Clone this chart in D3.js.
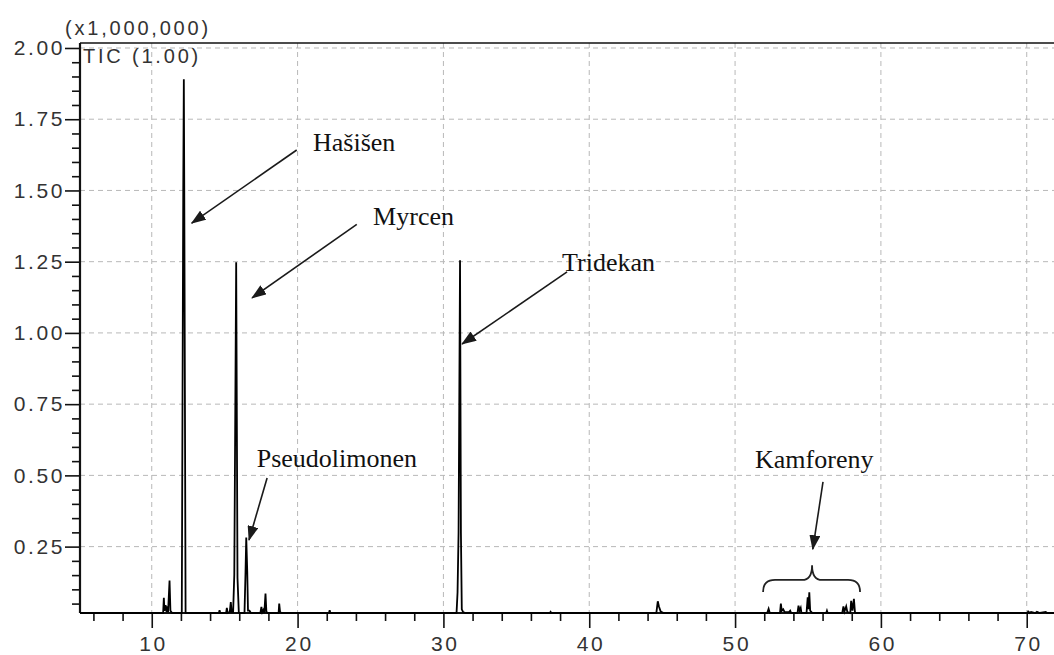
<!DOCTYPE html>
<html>
<head>
<meta charset="utf-8">
<script src="https://cdn.jsdelivr.net/npm/d3@7"></script>
<style>
  body { margin: 0; background: #fff; }
  .tick text { font-family: "Liberation Sans", Arial, sans-serif; }
</style>
</head>
<body>
<div id="graph-area"></div>
<script>
// Chromatogram trace (retention time in min, intensity in x1,000,000)
var traceTime = [
  5.08, 10.78, 10.83, 10.87, 10.95, 11.02, 11.08, 11.12, 11.22, 11.28, 11.4,
  12.06, 12.16, 12.2, 12.23, 12.32,
  14.6, 14.65, 14.7, 15.1, 15.15, 15.2, 15.35, 15.42, 15.48, 15.58, 15.66, 15.79, 15.88, 15.97, 16.02,
  16.36, 16.43, 16.48, 16.55, 16.6, 16.7, 16.8,
  17.45, 17.52, 17.58, 17.68, 17.72, 17.8, 17.86, 17.95,
  18.7, 18.74, 18.8, 18.9,
  22.15, 22.2, 22.25,
  30.9, 30.97, 31.04, 31.14, 31.2, 31.26, 31.35, 31.5,
  37.3, 37.35, 37.4,
  44.6, 44.7, 44.78, 44.9, 45.1,
  52.2, 52.3, 52.38, 53.08, 53.14, 53.2, 53.3, 53.4, 53.7, 53.78, 53.85,
  54.28, 54.35, 54.42, 54.5, 54.55, 54.9, 54.98, 55.03, 55.09, 55.15, 55.3,
  56.25, 56.3, 56.35, 57.35, 57.43, 57.5, 57.62, 57.7, 57.9, 57.96, 58.05, 58.15, 58.22, 58.3,
  70.05, 70.1, 70.2, 70.3, 70.6, 70.7, 70.9, 71.3, 71.4, 71.6, 71.87
];
var traceSignal = [
  0.017, 0.017, 0.07, 0.025, 0.045, 0.02, 0.04, 0.02, 0.131, 0.025, 0.017,
  0.017, 1.50, 1.89, 1.50, 0.017,
  0.017, 0.027, 0.017, 0.017, 0.035, 0.017, 0.02, 0.055, 0.02, 0.02, 0.15, 1.248, 0.14, 0.02, 0.017,
  0.017, 0.16, 0.282, 0.16, 0.025, 0.025, 0.017,
  0.017, 0.038, 0.02, 0.03, 0.017, 0.085, 0.022, 0.017,
  0.017, 0.05, 0.02, 0.017,
  0.017, 0.027, 0.017,
  0.017, 0.09, 0.30, 1.255, 0.30, 0.03, 0.02, 0.017,
  0.017, 0.021, 0.017,
  0.017, 0.058, 0.04, 0.022, 0.017,
  0.017, 0.032, 0.017, 0.017, 0.05, 0.025, 0.03, 0.02, 0.02, 0.025, 0.017,
  0.017, 0.043, 0.025, 0.035, 0.017, 0.017, 0.072, 0.03, 0.09, 0.025, 0.017,
  0.017, 0.025, 0.017, 0.017, 0.04, 0.022, 0.04, 0.02, 0.017, 0.06, 0.025, 0.067, 0.02, 0.017,
  0.017, 0.022, 0.017, 0.021, 0.017, 0.021, 0.017, 0.021, 0.017, 0.017, 0.017
];

var xTicks = [10, 20, 30, 40, 50, 60, 70];
var yTicks = [0.25, 0.50, 0.75, 1.00, 1.25, 1.50, 1.75, 2.00];

// Annotations (data coords)
var labelNames  = ["Hašišen", "Myrcen", "Tridekan", "Pseudolimonen", "Kamforeny"];
var labelTime   = [21.06, 25.18, 38.14, 17.2, 51.37];
var labelSignal = [1.64, 1.379, 1.217, 0.530, 0.526];
var arrowFromTime   = [19.94, 24.06, 38.48, 17.91, 56.03];
var arrowFromSignal = [1.642, 1.381, 1.214, 0.491, 0.477];
var arrowToTime     = [12.74, 16.88, 31.28, 16.67, 55.33];
var arrowToSignal   = [1.385, 1.123, 0.961, 0.273, 0.241];
// brace over Kamforeny group: left, centre, right / end, arm, tip level
var braceTime   = [51.92, 55.28, 58.57];
var braceSignal = [0.091, 0.133, 0.185];

var width = 1054, height = 655;
var mLeft = 80, mTop = 43, mBottom = 613;

var x = d3.scaleLinear().domain([5.08, 71.87]).range([mLeft, width]);
var y = d3.scaleLinear().domain([0.017, 2.0175]).range([mBottom, mTop]);

var svg = d3.select("#graph-area")
  .append("svg")
  .attr("width", width)
  .attr("height", height);

// arrow head
svg.append("defs").append("marker")
  .attr("id", "head")
  .attr("markerUnits", "userSpaceOnUse")
  .attr("viewBox", "0 0 15 11")
  .attr("refX", 14).attr("refY", 5.5)
  .attr("markerWidth", 15).attr("markerHeight", 11)
  .attr("orient", "auto")
  .append("path")
  .attr("d", "M0,0 L15,5.5 L0,11 Z")
  .attr("fill", "#1a1a1a");

// grid
var grid = svg.append("g").attr("stroke", "#b8b8b8").attr("stroke-width", 1)
  .attr("stroke-dasharray", "5,4");
grid.selectAll(".vg").data(xTicks).enter().append("line")
  .attr("x1", d => x(d)).attr("x2", d => x(d))
  .attr("y1", mTop).attr("y2", mBottom);
grid.selectAll(".hg").data(yTicks).enter().append("line")
  .attr("x1", mLeft).attr("x2", width)
  .attr("y1", d => y(d)).attr("y2", d => y(d));

// Axes
var xMinor = d3.range(6, 72, 2).filter(d => d % 10 != 0);
var yMinor = d3.range(0.05, 2.0, 0.05).filter(d => Math.abs(d * 4 - Math.round(d * 4)) > 0.01);

var xAxis = svg.append("g").attr("transform", "translate(0," + mBottom + ")");
xAxis.call(d3.axisBottom(x).tickValues(xMinor).tickSize(8).tickFormat(""));
xAxis.append("g").call(d3.axisBottom(x).tickValues(xTicks).tickSize(15).tickPadding(8));

var yAxis = svg.append("g").attr("transform", "translate(" + mLeft + ",0)");
yAxis.call(d3.axisLeft(y).tickValues(yMinor).tickSize(8).tickFormat(""));
yAxis.append("g").call(d3.axisLeft(y).tickValues(yTicks).tickSize(15).tickPadding(0)
  .tickFormat(d3.format(".2f")));

svg.selectAll(".domain").remove();
svg.selectAll(".tick line").attr("stroke", "#111").attr("stroke-width", 1.6);
svg.selectAll(".tick text")
  .attr("font-size", 21)
  .attr("fill", "#333")
  .attr("letter-spacing", 2.6);
yAxis.selectAll(".tick text").attr("x", -15);
xAxis.selectAll(".tick text").attr("dx", 1.3);

// frame lines
svg.append("line").attr("x1", mLeft).attr("x2", width).attr("y1", mTop).attr("y2", mTop)
  .attr("stroke", "#111").attr("stroke-width", 1.6);
svg.append("line").attr("x1", mLeft).attr("x2", width).attr("y1", mBottom).attr("y2", mBottom)
  .attr("stroke", "#111").attr("stroke-width", 2.2);
svg.append("line").attr("x1", mLeft).attr("x2", mLeft).attr("y1", mTop).attr("y2", mBottom)
  .attr("stroke", "#111").attr("stroke-width", 2.2);

// header texts
svg.append("text").attr("x", 65).attr("y", 35)
  .attr("font-family", "Liberation Sans, Arial, sans-serif").attr("font-size", 20)
  .attr("letter-spacing", 2.8).attr("fill", "#333").text("(x1,000,000)");
svg.append("text").attr("x", 83).attr("y", 63)
  .attr("font-family", "Liberation Sans, Arial, sans-serif").attr("font-size", 20)
  .attr("letter-spacing", 2.8).attr("fill", "#333").text("TIC (1.00)");

// trace
var line = d3.line()
  .x(d => x(d[0]))
  .y(d => y(d[1]));
svg.append("path")
  .attr("fill", "none")
  .attr("stroke", "#000")
  .attr("stroke-width", 1.8)
  .attr("stroke-linejoin", "miter")
  .attr("d", line(traceTime.map((t, i) => [t, traceSignal[i]])));

// annotation labels
svg.selectAll(".lab").data(labelNames).enter().append("text")
  .attr("x", (d, i) => x(labelTime[i]))
  .attr("y", (d, i) => y(labelSignal[i]))
  .attr("font-family", "Liberation Serif, Times New Roman, serif")
  .attr("font-size", 26)
  .attr("fill", "#111")
  .text(d => d);

// arrows
svg.selectAll(".arr").data(labelNames).enter().append("line")
  .attr("x1", (d, i) => x(arrowFromTime[i]))
  .attr("y1", (d, i) => y(arrowFromSignal[i]))
  .attr("x2", (d, i) => x(arrowToTime[i]))
  .attr("y2", (d, i) => y(arrowToSignal[i]))
  .attr("stroke", "#1a1a1a")
  .attr("stroke-width", 1.6)
  .attr("marker-end", "url(#head)");

// brace
var xl = x(braceTime[0]), xc = x(braceTime[1]), xr = x(braceTime[2]);
var yb = y(braceSignal[0]), ym = y(braceSignal[1]), yt = y(braceSignal[2]);
var bp = d3.path();
bp.moveTo(xl, yb);
bp.quadraticCurveTo(xl, ym, xl + 12, ym);
bp.lineTo(xc - 10, ym);
bp.quadraticCurveTo(xc, ym, xc, yt);
bp.quadraticCurveTo(xc, ym, xc + 10, ym);
bp.lineTo(xr - 12, ym);
bp.quadraticCurveTo(xr, ym, xr, yb);
svg.append("path").attr("d", bp.toString())
  .attr("fill", "none").attr("stroke", "#222").attr("stroke-width", 1.8);
</script>
</body>
</html>
